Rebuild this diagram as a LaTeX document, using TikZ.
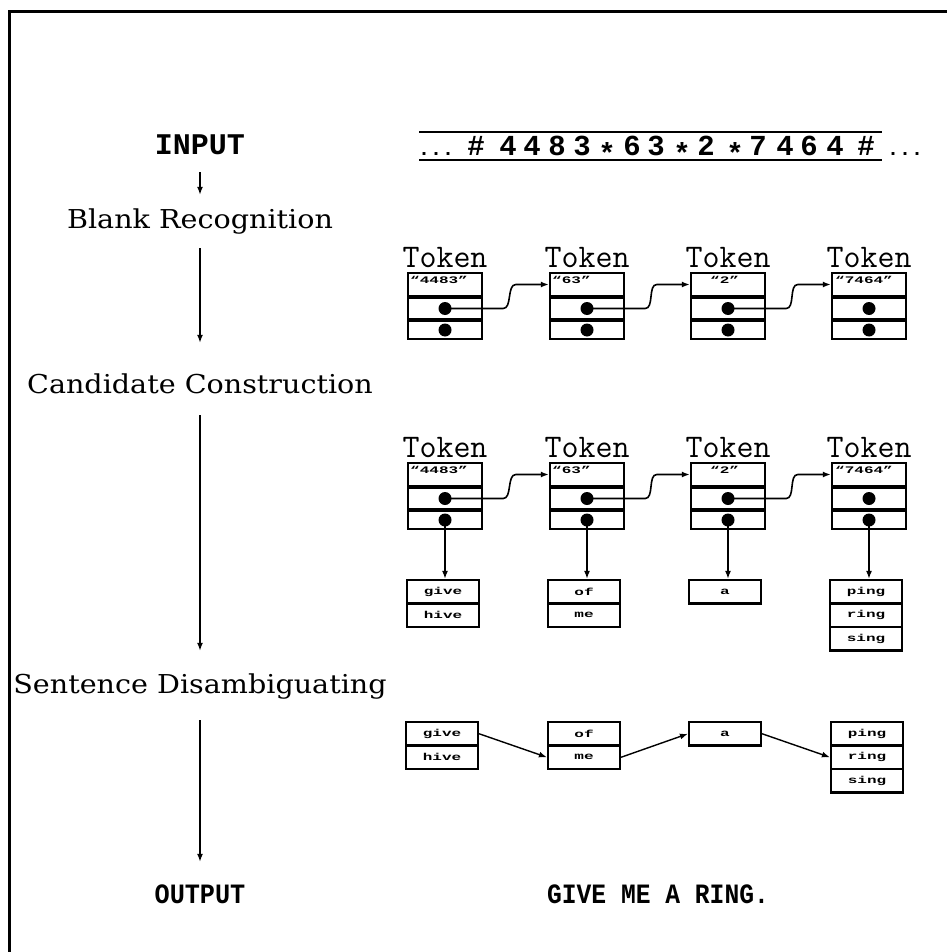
\documentclass[tikz,border=0pt]{standalone}
\usepackage{fontspec}
\usepackage{graphicx}
\setmainfont{DejaVu Serif}
\newfontfamily\mymono{Liberation Mono}
\usetikzlibrary{arrows.meta,calc}
% token column: name, cx, ytop, text, text x-offset
\newcommand\tokcol[5]{%
  \node[tokhead] (#1h) at (#2,#3-6) {Token};
  \node[tcell, minimum height=23pt] (#1a) at (#2,#3+11.5) {};
  \node[tcell, minimum height=22pt] (#1b) at (#2,#3+35.5) {};
  \node[tcell, minimum height=18pt] (#1c) at (#2,#3+57) {};
  \node[blob] (#1db) at (#1b.center) {};
  \node[blob] (#1dc) at (#1c.center) {};
  \node[celltxt, anchor=base west] (#1t) at (#2+#5,#3+10.5) {\scalebox{1.6}[1]{#4}};
}
% candidate cell: name, cx, cy, word
\newcommand\candcell[4]{%
  \node[ccell] (#1) at (#2,#3) {};
  \node[celltxt] (#1t) at (#1.center) {\scalebox{1.6}[1]{#4}};
}
\begin{document}
\begin{tikzpicture}[x=1pt,y=-1pt,
  lab/.style={font=\fontsize{26}{26}\selectfont, inner sep=0pt, anchor=base, text height=19pt, text depth=0pt},
  bigmono/.style={font=\mymono\bfseries\fontsize{28}{28}\selectfont, inner sep=0pt, anchor=base, text height=20pt, text depth=0pt},
  tape/.style={font=\mymono\bfseries\fontsize{29}{29}\selectfont, inner sep=0pt, anchor=base},
  tokhead/.style={font=\ttfamily\fontsize{33}{33}\selectfont, inner sep=0pt, anchor=base},
  tcell/.style={draw, line width=2.4pt, minimum width=74pt, inner sep=0pt},
  ccell/.style={draw, line width=2.2pt, minimum width=72pt, minimum height=23.5pt, inner sep=0pt},
  blob/.style={circle, fill=black, minimum size=13pt, inner sep=0pt},
  celltxt/.style={font=\mymono\bfseries\fontsize{10}{10}\selectfont, inner sep=0pt},
  varrow/.style={line width=1.5pt, -{Latex[length=8pt,width=6pt]}},
  link/.style={line width=1.6pt, -{Latex[length=8pt,width=6pt]}},
]
\useasboundingbox (0,0) rectangle (947,952);
% frame
\draw[line width=3pt] (9.5,952) -- (9.5,12) -- (947,12);

% left column
\node[bigmono, font=\mymono\bfseries\fontsize{30}{30}\selectfont] (input) at (200,155) {INPUT};
\node[lab] (blank) at (200,228) {\scalebox{1.1}[1]{Blank Recognition}};
\node[lab] (cand) at (200,393) {\scalebox{1.1}[1]{Candidate Construction}};
\node[lab] (sent) at (200,693) {\scalebox{1.1}[1]{Sentence Disambiguating}};
\node[bigmono] (output) at (200,903) {\scalebox{0.9}[1]{OUTPUT}};
\node[bigmono] (result) at (658,903) {\scalebox{0.88}[1]{GIVE ME A RING.}};

\draw[varrow, shorten <=17pt, shorten >=14pt] (input.south) -- (blank.north);
\draw[varrow, shorten <=20pt, shorten >=31pt] (blank.south) -- (cand.north);
\draw[varrow, shorten <=22pt, shorten >=23pt] (cand.south) -- (sent.north);
\draw[varrow, shorten <=27pt, shorten >=21pt] (sent.south) -- (output.north);

% input tape
\draw[line width=2.5pt] (419,132) -- (882,132);
\draw[line width=2.5pt] (419,160) -- (882,160);
\node[tape, font=\mymono\bfseries\fontsize{20}{20}\selectfont] (ldots) at (436,156) {...};
\node[tape, font=\mymono\bfseries\fontsize{20}{20}\selectfont] (rdots) at (905,156) {...};
\foreach \x/\g in {476/\#,508/4,532/4,557/8,582/3,632/6,656/3,706/2,758/7,785/4,809/6,835/4,866/\#}
  \node[tape] (g\x) at (\x,156) {\g};
\foreach \x in {607,682,735}
  \node[tape] (s\x) at (\x,164) {*};

% token row 1
\tokcol{ta1}{445}{273}{“4483”}{-35}
\tokcol{ta2}{587}{273}{“63”}{-35}
\tokcol{ta3}{728}{273}{“2”}{-18}
\tokcol{ta4}{869}{273}{“7464”}{-34}
\draw[link] (ta1db.center) -- ($(ta1b.east)+(20,0)$) .. controls +(9,0) and +(-9,0) .. ($(ta2a.west)+(-33,0)$) -- (ta2a.west);
\draw[link] (ta2db.center) -- ($(ta2b.east)+(20,0)$) .. controls +(9,0) and +(-9,0) .. ($(ta3a.west)+(-33,0)$) -- (ta3a.west);
\draw[link] (ta3db.center) -- ($(ta3b.east)+(20,0)$) .. controls +(9,0) and +(-9,0) .. ($(ta4a.west)+(-33,0)$) -- (ta4a.west);

% token row 2
\tokcol{tb1}{445}{463}{“4483”}{-35}
\tokcol{tb2}{587}{463}{“63”}{-35}
\tokcol{tb3}{728}{463}{“2”}{-18}
\tokcol{tb4}{869}{463}{“7464”}{-34}
\draw[link] (tb1db.center) -- ($(tb1b.east)+(20,0)$) .. controls +(9,0) and +(-9,0) .. ($(tb2a.west)+(-33,0)$) -- (tb2a.west);
\draw[link] (tb2db.center) -- ($(tb2b.east)+(20,0)$) .. controls +(9,0) and +(-9,0) .. ($(tb3a.west)+(-33,0)$) -- (tb3a.west);
\draw[link] (tb3db.center) -- ($(tb3b.east)+(20,0)$) .. controls +(9,0) and +(-9,0) .. ($(tb4a.west)+(-33,0)$) -- (tb4a.west);

% candidates
\candcell{c1a}{443}{591.75}{give}
\candcell{c1b}{443}{615.25}{hive}
\candcell{c2a}{584}{591.75}{of}
\candcell{c2b}{584}{615.25}{me}
\candcell{c3a}{725}{591.75}{a}
\candcell{c4a}{866}{591.75}{ping}
\candcell{c4b}{866}{615.25}{ring}
\candcell{c4c}{866}{638.75}{sing}
\draw[link] (tb1dc.center) -- (tb1dc.center |- c1a.north);
\draw[link] (tb2dc.center) -- (tb2dc.center |- c2a.north);
\draw[link] (tb3dc.center) -- (tb3dc.center |- c3a.north);
\draw[link] (tb4dc.center) -- (tb4dc.center |- c4a.north);

% disambiguation
\candcell{s1a}{442}{733.75}{give}
\candcell{s1b}{442}{757.25}{hive}
\candcell{s2a}{584}{733.75}{of}
\candcell{s2b}{584}{757.25}{me}
\candcell{s3a}{725}{733.75}{a}
\candcell{s4a}{867}{733.75}{ping}
\candcell{s4b}{867}{757.25}{ring}
\candcell{s4c}{867}{780.75}{sing}
\draw[link, line width=1.4pt] (s1a.east) -- (s2b.west);
\draw[link, line width=1.4pt] (s2b.east) -- (s3a.west);
\draw[link, line width=1.4pt] (s3a.east) -- (s4b.west);
\end{tikzpicture}
\end{document}
